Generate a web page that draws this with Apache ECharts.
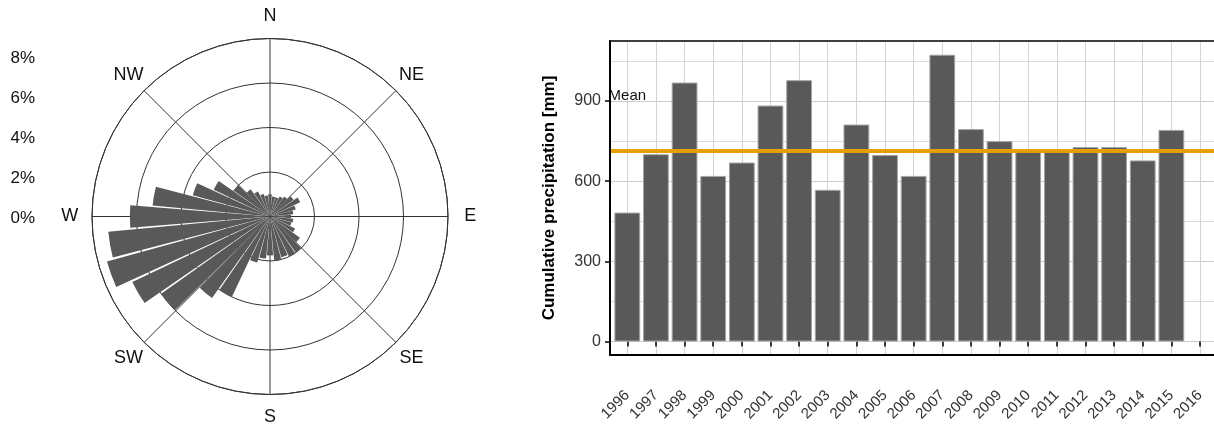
<!DOCTYPE html>
<html><head><meta charset="utf-8">
<script src="https://cdn.jsdelivr.net/npm/echarts@6/dist/echarts.min.js"></script>
<style>html,body{margin:0;padding:0;background:#fff;} #c{width:1214px;height:425px;}</style>
</head><body><div id="c"></div>
<script>
// ---- Wind rose data (frequency % per 10° direction bin, clockwise from N) ----
const directions = ['N', 'NE', 'E', 'SE', 'S', 'SW', 'W', 'NW'];
const directionAngles = [0, 45, 90, 135, 180, 225, 270, 315];
const windBins = ['0','10','20','30','40','50','60','70','80','90','100','110','120','130','140','150','160','170',
                  '180','190','200','210','220','230','240','250','260','270','280','290','300','310','320','330','340','350'];
const windFreq = [1.0, 0.9, 0.9, 1.0, 1.1, 1.3, 1.5, 1.2, 1.05, 0.95, 1.05, 1.0, 1.25, 1.65, 2.0, 2.0, 1.9, 2.0,
                  1.75, 1.9, 2.15, 4.0, 4.5, 6.0, 6.85, 7.6, 7.3, 6.3, 5.3, 3.6, 2.8, 2.0, 1.5, 1.25, 1.05, 0.95];
const pctTicks = [0, 2, 4, 6, 8];

// ---- Precipitation data ----
const years = ['1996','1997','1998','1999','2000','2001','2002','2003','2004','2005','2006',
               '2007','2008','2009','2010','2011','2012','2013','2014','2015','2016'];
const precip = [482, 700, 968, 619, 669, 882, 977, 567, 811, 697, 619,
                1072, 794, 749, 712, 712, 727, 727, 677, 791];
const meanPrecip = 712;
const meanLabel = 'Mean';
const meanLabelY = 920;
const yTitle = 'Cumulative precipitation [mm]';

const FONT = '"Liberation Sans", Arial, sans-serif';
const LABEL_RADIUS = 9; // direction labels sit just outside the 8% ring
const chart = echarts.init(document.getElementById('c'), null, {renderer: 'canvas'});

const textLabel = (fmt, size) => ({
  show: true, position: 'inside', formatter: fmt, fontSize: size, color: '#111',
  fontFamily: FONT, textBorderWidth: 0, textShadowBlur: 0, opacity: 1
});

const option = {
  animation: false,
  backgroundColor: '#ffffff',
  textStyle: {fontFamily: FONT},
  polar: [
    {center: [270, 216.5], radius: 178},
    {center: [270, 216.5], radius: 178}
  ],
  angleAxis: [
    {polarIndex: 0, type: 'value', min: 0, max: 360, interval: 45, startAngle: 90, clockwise: true,
     axisLine: {show: true, lineStyle: {color: '#333', width: 1}},
     axisTick: {show: false}, axisLabel: {show: false},
     splitLine: {show: true, lineStyle: {color: '#333', width: 1}}},
    {polarIndex: 1, type: 'category', data: windBins, startAngle: 95, clockwise: true, show: false}
  ],
  radiusAxis: [
    {polarIndex: 0, type: 'value', min: 0, max: 8, interval: 2,
     axisLine: {show: false}, axisTick: {show: false}, axisLabel: {show: false},
     splitLine: {show: true, lineStyle: {color: '#333', width: 1}}},
    {polarIndex: 1, type: 'value', min: 0, max: 8, show: false}
  ],
  grid: [
    {left: 43, top: 58.7, width: 10, height: 159.3},                 // percent labels
    {left: 627.3, top: 41, width: 572.7, height: 314},               // bars
    {left: 610, top: 60.9, width: 620, height: 280.6},               // horizontal grid lines
    {left: 610, top: 100.9, width: 620, height: 240.6},              // y ticks + labels
    {left: 610, top: 41, width: 620, height: 314}                    // frame
  ],
  xAxis: [
    {gridIndex: 0, type: 'value', min: 0, max: 1, show: false},
    {gridIndex: 1, type: 'category', data: years, boundaryGap: false,
     axisLine: {show: false},
     axisTick: {show: true, length: 5, lineStyle: {color: '#000', width: 1.5}},
     axisLabel: {show: true, interval: 0, rotate: 45, margin: 38, fontSize: 15, color: '#333', fontFamily: FONT},
     splitLine: {show: true, lineStyle: {color: '#d3d3d3', width: 1}}},
    {gridIndex: 2, type: 'value', min: 0, max: 1, show: false},
    {gridIndex: 3, type: 'value', min: 0, max: 1, show: false},
    {gridIndex: 4, type: 'value', min: 0, max: 1, position: 'bottom',
     axisLine: {show: true, lineStyle: {color: '#000', width: 2.2}},
     axisTick: {show: false}, axisLabel: {show: false}, splitLine: {show: false}, z: 10},
    {gridIndex: 4, type: 'value', min: 0, max: 1, position: 'top',
     axisLine: {show: true, lineStyle: {color: '#000', width: 1.6}},
     axisTick: {show: false}, axisLabel: {show: false}, splitLine: {show: false}, z: 10}
  ],
  yAxis: [
    {gridIndex: 0, type: 'value', min: pctTicks[0], max: pctTicks[pctTicks.length - 1], interval: 2,
     axisLine: {show: false}, axisTick: {show: false}, splitLine: {show: false},
     axisLabel: {show: true, formatter: '{value}%', fontSize: 17, color: '#111', margin: 8, fontFamily: FONT}},
    {gridIndex: 1, type: 'value', min: -50.5, max: 1123.4, show: false},
    {gridIndex: 2, type: 'value', min: 0, max: 1050, interval: 150,
     axisLine: {show: false}, axisTick: {show: false}, axisLabel: {show: false},
     splitLine: {show: true, lineStyle: {color: ['#cccccc', '#dadada'], width: 1}}},
    {gridIndex: 3, type: 'value', min: 0, max: 900, interval: 300,
     axisLine: {show: false}, splitLine: {show: false},
     axisTick: {show: true, length: 5, lineStyle: {color: '#000', width: 1.5}},
     axisLabel: {show: true, fontSize: 16, color: '#333', margin: 9, fontFamily: FONT}},
    {gridIndex: 4, type: 'value', min: 0, max: 1, position: 'left',
     axisLine: {show: true, lineStyle: {color: '#000', width: 2}},
     axisTick: {show: false}, axisLabel: {show: false}, splitLine: {show: false}, z: 10,
     name: yTitle, nameLocation: 'middle', nameGap: 52,
     nameTextStyle: {fontSize: 17, fontWeight: 'bold', color: '#000', fontFamily: FONT}}
  ],
  series: [
    {type: 'bar', coordinateSystem: 'polar', polarIndex: 1, data: windFreq,
     barCategoryGap: '8%', itemStyle: {color: '#595959'}, z: 3, silent: true},
    {type: 'scatter', coordinateSystem: 'polar', polarIndex: 0, clip: false, silent: true,
     data: directions.map((d, i) => ({value: [LABEL_RADIUS, directionAngles[i]], name: d})),
     symbolSize: 0, itemStyle: {color: '#000'}, z: 4,
     label: textLabel('{b}', 18)},
    {type: 'bar', xAxisIndex: 1, yAxisIndex: 1, data: precip, barCategoryGap: '10%', clip: false,
     itemStyle: {color: '#595959', borderColor: '#a3a3a3', borderWidth: 1}, z: 3, silent: true},
    {type: 'scatter', xAxisIndex: 1, yAxisIndex: 1, data: [[years[0], meanLabelY]], symbolSize: 0,
     itemStyle: {color: '#000'}, z: 6, silent: true,
     label: textLabel(meanLabel, 15)},
    {type: 'line', xAxisIndex: 2, yAxisIndex: 2, data: [], z: 5, silent: true,
     markLine: {symbol: ['none', 'none'], silent: true, label: {show: false},
       lineStyle: {color: '#E69F00', width: 4, type: 'solid'},
       data: [{yAxis: meanPrecip}]}}
  ]
};
chart.setOption(option);
</script></body></html>
